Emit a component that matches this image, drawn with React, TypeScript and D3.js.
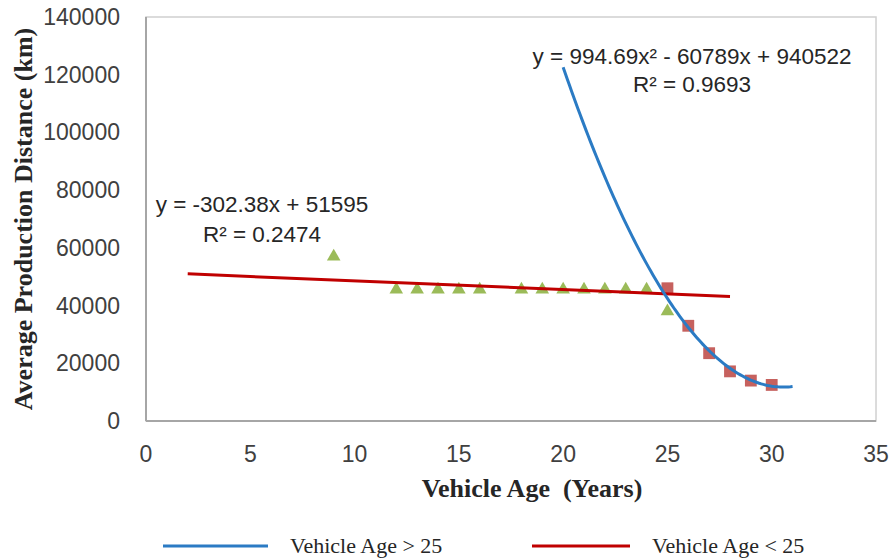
import * as d3 from 'd3';

const W = 890;
const H = 559;
const plot = { left: 146, right: 876, top: 17, bottom: 421 };

// vehicle age < 25 (green triangles)
const youngAges = [9, 12, 13, 14, 15, 16, 18, 19, 20, 21, 22, 23, 24, 25];
const youngDist = [57000, 45500, 45500, 45500, 45500, 45500, 45500, 45500, 45500, 45500, 45500, 45500, 45500, 38000];

// vehicle age > 25 (red squares)
const oldAges = [25, 26, 27, 28, 29, 30];
const oldDist = [46000, 33000, 23500, 17200, 14000, 12500];

// trendlines as printed on the chart
const linCoef = [51595, -302.38]; // a + b x
const linRange = [2, 28];
const quadCoef = [940522, -60789, 994.69]; // a + b x + c x^2
const quadRange = [20, 31];

const xTicks = [0, 5, 10, 15, 20, 25, 30, 35];
const yTicks = [0, 20000, 40000, 60000, 80000, 100000, 120000, 140000];

const sans = '"Liberation Sans", Arial, sans-serif';
const serif = '"Liberation Serif", "Times New Roman", serif';

export default function App() {
  const x = d3.scaleLinear().domain([0, 35]).range([plot.left, plot.right]);
  const y = d3.scaleLinear().domain([0, 140000]).range([plot.bottom, plot.top]);

  const linPts = linRange.map((v) => [v, linCoef[0] + linCoef[1] * v] as [number, number]);
  const quadPts = d3
    .range(quadRange[0], quadRange[1] + 0.001, 0.1)
    .map((v) => [v, quadCoef[0] + quadCoef[1] * v + quadCoef[2] * v * v] as [number, number]);

  const line = d3
    .line<[number, number]>()
    .x((d) => x(d[0]))
    .y((d) => y(d[1]));

  const tri = d3.symbol().type(d3.symbolTriangle).size(80)();
  const sq = d3.symbol().type(d3.symbolSquare).size(140)();

  return (
    <div style={{ position: 'absolute', left: 0, top: 0 }}>
      <svg width={W} height={H} style={{ display: 'block', background: '#fff' }}>
        {/* plot box */}
        <rect
          x={plot.left}
          y={plot.top}
          width={plot.right - plot.left}
          height={plot.bottom - plot.top}
          fill="none"
          stroke="#d0d0d0"
          strokeWidth={1.5}
        />
        <line x1={plot.left} x2={plot.left} y1={plot.top} y2={plot.bottom} stroke="#a6a6a6" strokeWidth={2} />
        <line x1={plot.left} x2={plot.right} y1={plot.bottom} y2={plot.bottom} stroke="#a6a6a6" strokeWidth={2} />

        {/* y tick labels */}
        {yTicks.map((t) => (
          <text
            key={t}
            x={120}
            y={y(t)}
            dy="0.35em"
            textAnchor="end"
            fontFamily={sans}
            fontSize={23}
            fill="#404040"
          >
            {t}
          </text>
        ))}

        {/* x tick labels */}
        {xTicks.map((t) => (
          <text
            key={t}
            x={x(t)}
            y={462}
            textAnchor="middle"
            fontFamily={sans}
            fontSize={23}
            fill="#404040"
          >
            {t}
          </text>
        ))}

        {/* markers */}
        {oldAges.map((a, i) => (
          <path key={'s' + a} d={sq!} transform={`translate(${x(a)},${y(oldDist[i])})`} fill="#c0504d" opacity={0.9} />
        ))}
        {youngAges.map((a, i) => (
          <path key={'t' + a} d={tri!} transform={`translate(${x(a)},${y(youngDist[i])})`} fill="#9bbb59" />
        ))}

        {/* trendlines */}
        <path d={line(linPts)!} fill="none" stroke="#c00000" strokeWidth={3} />
        <path d={line(quadPts)!} fill="none" stroke="#2b7bc4" strokeWidth={3} />

        {/* equations */}
        <g fontFamily={sans} fontSize={22.5} fill="#262626" textAnchor="middle">
          <text x={262} y={212}>y = -302.38x + 51595</text>
          <text x={262} y={242}>R² = 0.2474</text>
          <text x={692} y={64}>y = 994.69x² - 60789x + 940522</text>
          <text x={692} y={92}>R² = 0.9693</text>
        </g>

        {/* axis titles */}
        <text x={532} y={497} textAnchor="middle" fontFamily={serif} fontWeight="bold" fontSize={26} fill="#262626" xmlSpace="preserve">
          Vehicle Age  (Years)
        </text>
        <text
          transform={`translate(32,${219}) rotate(-90)`}
          textAnchor="middle"
          fontFamily={serif}
          fontWeight="bold"
          fontSize={26}
          fill="#262626"
        >
          Average Production Distance (km)
        </text>

        {/* legend */}
        <line x1={163} x2={268} y1={546} y2={546} stroke="#2b7bc4" strokeWidth={3} />
        <text x={290} y={553} fontFamily={serif} fontSize={22} fill="#262626">
          Vehicle Age &gt; 25
        </text>
        <line x1={532} x2={630} y1={546} y2={546} stroke="#c00000" strokeWidth={3} />
        <text x={652} y={553} fontFamily={serif} fontSize={22} fill="#262626">
          Vehicle Age &lt; 25
        </text>
      </svg>
    </div>
  );
}
